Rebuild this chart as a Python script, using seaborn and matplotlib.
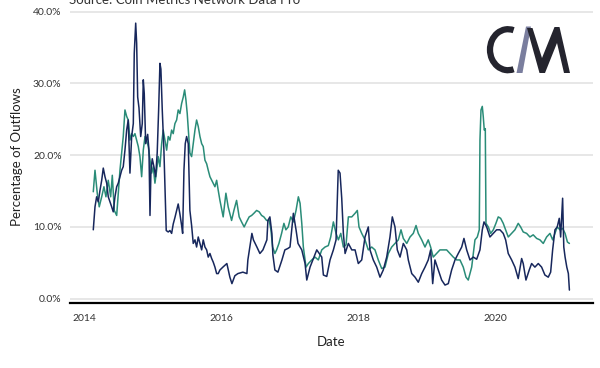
# Share of exchange outflows - recreated with seaborn
import pandas as pd
import matplotlib
matplotlib.use("Agg")
import matplotlib.pyplot as plt
import matplotlib.dates as mdates
from matplotlib.patches import Arc, Polygon
import seaborn as sns

# navy series (decimal year, percent)
navy_years = [
    2014.126, 2014.151, 2014.175, 2014.199, 2014.224, 2014.249, 2014.272, 2014.297, 2014.322, 2014.345,
    2014.370, 2014.395, 2014.418, 2014.443, 2014.468, 2014.491, 2014.516, 2014.541, 2014.564, 2014.589,
    2014.614, 2014.637, 2014.662, 2014.687, 2014.711, 2014.725, 2014.746, 2014.760, 2014.775, 2014.794,
    2014.819, 2014.842, 2014.857, 2014.871, 2014.892, 2014.921, 2014.940, 2014.955, 2014.969, 2014.988,
    2015.013, 2015.038, 2015.061, 2015.082, 2015.101, 2015.115, 2015.135, 2015.159, 2015.178, 2015.193,
    2015.222, 2015.247, 2015.272, 2015.295, 2015.320, 2015.345, 2015.368, 2015.393, 2015.418, 2015.433,
    2015.452, 2015.471, 2015.491, 2015.515, 2015.539, 2015.564, 2015.588, 2015.613, 2015.637, 2015.661,
    2015.686, 2015.711, 2015.734, 2015.759, 2015.784, 2015.807, 2015.832, 2015.857, 2015.880, 2015.905,
    2015.930, 2015.953, 2015.978, 2016.022, 2016.080, 2016.124, 2016.154, 2016.197, 2016.241, 2016.314,
    2016.373, 2016.387, 2016.446, 2016.468, 2016.519, 2016.563, 2016.607, 2016.665, 2016.680, 2016.709,
    2016.738, 2016.753, 2016.782, 2016.826, 2016.885, 2016.928, 2016.972, 2017.001, 2017.050, 2017.089,
    2017.118, 2017.173, 2017.221, 2017.246, 2017.294, 2017.392, 2017.465, 2017.489, 2017.538, 2017.586,
    2017.635, 2017.674, 2017.706, 2017.732, 2017.757, 2017.781, 2017.806, 2017.854, 2017.904, 2017.952,
    2018.000, 2018.050, 2018.098, 2018.146, 2018.171, 2018.219, 2018.269, 2018.317, 2018.365, 2018.415,
    2018.463, 2018.497, 2018.536, 2018.570, 2018.610, 2018.658, 2018.708, 2018.731, 2018.781, 2018.829,
    2018.877, 2018.927, 2018.975, 2019.023, 2019.058, 2019.088, 2019.121, 2019.170, 2019.219, 2019.268,
    2019.316, 2019.365, 2019.414, 2019.462, 2019.512, 2019.545, 2019.585, 2019.633, 2019.681, 2019.731,
    2019.779, 2019.813, 2019.838, 2019.877, 2019.925, 2019.974, 2020.023, 2020.072, 2020.120, 2020.155,
    2020.193, 2020.243, 2020.291, 2020.339, 2020.389, 2020.412, 2020.452, 2020.500, 2020.535, 2020.583,
    2020.632, 2020.681, 2020.729, 2020.778, 2020.813, 2020.842, 2020.876, 2020.909, 2020.939, 2020.959,
    2020.988, 2021.003, 2021.022, 2021.047, 2021.070, 2021.085,
]
navy_pct = [
    9.6, 12.8, 14.2, 13.5, 15.1, 16.5, 18.2, 17.0, 16.1, 14.2,
    13.5, 12.8, 12.1, 14.2, 15.6, 16.1, 17.0, 17.9, 18.4, 20.7,
    23.5, 24.9, 17.5, 22.6, 24.4, 34.2, 38.4, 35.6, 28.1, 26.6,
    22.6, 24.4, 30.5, 28.6, 21.6, 22.9, 20.7, 11.6, 17.9, 19.5,
    18.4, 17.0, 20.3, 26.3, 32.8, 32.0, 26.3, 20.7, 14.7, 9.5,
    9.3, 9.5, 9.1, 10.4, 11.3, 12.3, 13.2, 11.8, 10.2, 9.1,
    17.9, 21.6, 22.6, 21.6, 12.3, 10.2, 7.7, 8.2, 7.2, 8.6,
    7.7, 6.8, 8.2, 7.2, 6.8, 5.8, 6.3, 5.6, 5.1, 4.4,
    3.5, 3.5, 4.0, 4.4, 4.9, 3.0, 2.1, 3.2, 3.5, 3.7,
    3.5, 5.4, 9.1, 8.2, 7.2, 6.3, 6.8, 8.2, 10.9, 11.4,
    9.1, 6.1, 4.0, 3.7, 5.4, 6.8, 7.0, 7.2, 11.9, 9.6,
    7.7, 6.8, 4.9, 2.6, 4.4, 6.8, 5.8, 3.3, 3.1, 5.4,
    6.8, 8.2, 17.9, 17.5, 14.0, 9.1, 6.3, 7.7, 6.8, 6.8,
    4.9, 5.4, 8.6, 10.0, 6.8, 5.4, 4.4, 3.0, 4.0, 5.8,
    8.6, 11.4, 10.0, 6.8, 5.8, 7.7, 6.8, 5.4, 3.5, 3.0,
    2.3, 3.5, 4.4, 5.4, 6.8, 2.1, 5.4, 4.0, 2.6, 1.9,
    2.1, 4.0, 5.4, 6.3, 7.2, 8.4, 6.8, 5.4, 5.8, 5.5,
    6.8, 9.6, 10.7, 10.0, 8.6, 9.1, 9.6, 9.6, 9.1, 8.2,
    6.3, 5.4, 4.4, 2.8, 5.6, 4.9, 2.6, 4.0, 4.9, 4.4,
    4.9, 4.4, 3.3, 3.0, 3.7, 6.8, 9.6, 10.0, 11.2, 8.6,
    14.0, 7.2, 5.8, 4.4, 3.5, 1.2,
]

# teal series (decimal year, percent)
teal_years = [
    2014.126, 2014.151, 2014.184, 2014.213, 2014.249, 2014.282, 2014.311, 2014.345, 2014.380, 2014.404,
    2014.433, 2014.468, 2014.491, 2014.516, 2014.541, 2014.564, 2014.589, 2014.614, 2014.637, 2014.662,
    2014.687, 2014.711, 2014.735, 2014.760, 2014.784, 2014.808, 2014.833, 2014.857, 2014.882, 2014.906,
    2014.930, 2014.955, 2014.980, 2015.003, 2015.028, 2015.053, 2015.076, 2015.101, 2015.126, 2015.149,
    2015.174, 2015.199, 2015.222, 2015.247, 2015.272, 2015.295, 2015.320, 2015.345, 2015.368, 2015.393,
    2015.418, 2015.442, 2015.462, 2015.481, 2015.500, 2015.520, 2015.539, 2015.564, 2015.588, 2015.613,
    2015.637, 2015.661, 2015.686, 2015.711, 2015.734, 2015.759, 2015.784, 2015.807, 2015.832, 2015.880,
    2015.905, 2015.930, 2015.953, 2015.978, 2016.026, 2016.066, 2016.099, 2016.149, 2016.183, 2016.222,
    2016.260, 2016.295, 2016.333, 2016.368, 2016.406, 2016.442, 2016.475, 2016.515, 2016.553, 2016.588,
    2016.621, 2016.661, 2016.699, 2016.724, 2016.749, 2016.782, 2016.807, 2016.841, 2016.880, 2016.914,
    2016.943, 2016.977, 2017.012, 2017.050, 2017.089, 2017.123, 2017.148, 2017.173, 2017.196, 2017.235,
    2017.269, 2017.319, 2017.367, 2017.415, 2017.465, 2017.513, 2017.561, 2017.596, 2017.635, 2017.674,
    2017.708, 2017.743, 2017.781, 2017.820, 2017.854, 2017.904, 2017.952, 2017.985, 2018.010, 2018.050,
    2018.098, 2018.146, 2018.196, 2018.244, 2018.292, 2018.342, 2018.390, 2018.439, 2018.488, 2018.536,
    2018.585, 2018.624, 2018.658, 2018.708, 2018.756, 2018.804, 2018.844, 2018.877, 2018.927, 2018.975,
    2019.023, 2019.058, 2019.096, 2019.146, 2019.194, 2019.243, 2019.292, 2019.341, 2019.389, 2019.439,
    2019.487, 2019.535, 2019.575, 2019.608, 2019.658, 2019.706, 2019.740, 2019.769, 2019.779, 2019.794,
    2019.813, 2019.827, 2019.842, 2019.857, 2019.867, 2019.901, 2019.936, 2019.974, 2020.013, 2020.047,
    2020.082, 2020.120, 2020.155, 2020.193, 2020.243, 2020.291, 2020.339, 2020.374, 2020.412, 2020.462,
    2020.510, 2020.558, 2020.608, 2020.656, 2020.705, 2020.754, 2020.803, 2020.842, 2020.876, 2020.909,
    2020.949, 2020.988, 2021.022, 2021.056, 2021.085,
]
teal_pct = [
    14.9, 17.9, 14.7, 12.8, 14.2, 15.6, 14.2, 16.5, 14.2, 17.2,
    12.3, 11.6, 14.7, 17.9, 20.3, 22.6, 26.3, 25.4, 24.9, 22.1,
    23.0, 22.6, 23.0, 22.1, 21.2, 19.8, 17.0, 20.7, 22.6, 22.1,
    21.2, 19.3, 17.5, 18.4, 16.1, 17.9, 19.8, 18.4, 21.6, 23.5,
    22.1, 20.7, 22.6, 22.1, 23.5, 23.0, 24.4, 24.9, 26.3, 25.8,
    27.2, 28.1, 29.1, 27.7, 25.8, 23.0, 20.3, 19.8, 21.6, 23.5,
    24.9, 24.0, 22.6, 21.6, 21.2, 19.3, 18.8, 17.9, 17.0, 16.1,
    15.6, 16.5, 15.1, 13.7, 11.4, 14.7, 12.8, 10.9, 12.3, 13.7,
    11.4, 10.7, 10.0, 10.7, 11.4, 11.6, 11.9, 12.3, 12.1, 11.6,
    11.4, 10.9, 10.9, 9.6, 7.2, 6.3, 6.8, 7.7, 9.1, 10.5,
    9.6, 10.0, 11.4, 10.7, 12.3, 14.2, 13.3, 10.5, 7.2, 4.4,
    4.9, 5.4, 5.8, 5.4, 6.8, 7.2, 7.4, 8.6, 10.7, 9.1,
    8.2, 9.1, 7.2, 7.5, 11.4, 11.4, 11.9, 12.3, 10.0, 9.1,
    8.2, 6.8, 7.2, 6.8, 5.4, 4.2, 4.4, 6.3, 7.2, 7.7,
    8.2, 9.6, 8.4, 7.7, 8.6, 9.1, 10.2, 9.1, 8.2, 7.2,
    8.2, 7.2, 5.8, 6.3, 6.8, 6.8, 6.8, 6.3, 5.8, 5.4,
    5.4, 4.4, 3.0, 2.6, 4.4, 8.2, 8.6, 9.6, 22.1, 26.3,
    26.8, 25.4, 23.5, 23.7, 10.5, 10.0, 9.1, 9.6, 10.5, 11.4,
    11.2, 10.5, 9.6, 8.6, 9.1, 9.6, 10.5, 10.0, 9.3, 9.1,
    8.6, 8.9, 8.4, 8.2, 7.7, 8.6, 9.1, 8.2, 9.1, 10.0,
    9.6, 9.8, 9.1, 7.9, 7.7,
]

y_ticks = [0, 10, 20, 30, 40]
x_tick_years = [2014, 2016, 2018, 2020]

NAVY = "#17275c"
TEAL = "#2a8c78"
INK = "#24242e"


def to_date(years):
    # decimal year -> timestamp
    out = []
    for y in years:
        start = pd.Timestamp(year=int(y), month=1, day=1)
        out.append(start + pd.Timedelta(days=(y - int(y)) * 365.25))
    return out


navy_df = pd.DataFrame({"Date": to_date(navy_years), "pct": navy_pct})
teal_df = pd.DataFrame({"Date": to_date(teal_years), "pct": teal_pct})

sns.set_theme(style="white")
plt.rcParams["font.family"] = ["Lato", "DejaVu Sans"]

W, H = 600, 368
fig = plt.figure(figsize=(W / 100, H / 100), dpi=100)
ax = fig.add_axes([70 / W, 65 / H, 523 / W, 293.5 / H])

sns.lineplot(data=teal_df, x="Date", y="pct", color=TEAL, linewidth=1.1, ax=ax)
sns.lineplot(data=navy_df, x="Date", y="pct", color=NAVY, linewidth=1.1, ax=ax)

ax.set_ylim(-0.6, 40.3)
ax.set_xlim(to_date([2013.785])[0], to_date([2021.43])[0])
ax.set_yticks(y_ticks)
ax.set_yticklabels([f"{v:.1f}%" for v in y_ticks])
ax.set_xticks(to_date(x_tick_years))
ax.xaxis.set_major_formatter(mdates.DateFormatter("%Y"))

ax.grid(axis="y", color="#e3e3e3", linewidth=1.2)
ax.grid(axis="x", visible=False)
ax.set_axisbelow(True)
for side in ["top", "right", "left"]:
    ax.spines[side].set_visible(False)
ax.spines["bottom"].set_color("black")
ax.spines["bottom"].set_linewidth(1.6)

ax.tick_params(axis="both", length=0, labelsize=7.5, colors="#333333")
ax.tick_params(axis="x", pad=8)
ax.tick_params(axis="y", pad=6)
ax.set_xlabel("Date", fontsize=9.5, color="#222222", labelpad=9)
ax.set_ylabel("Percentage of Outflows", fontsize=9.5, color="#222222", labelpad=7)

fig.text(69 / W, 1 - 4 / H, "Source: Coin Metrics Network Data Pro",
         ha="left", va="baseline", fontsize=9.5, color="#333333")


# logo, drawn in figure pixels
def px(x, y):
    return (x / W, 1 - y / H)


fig.add_artist(Arc(px(508, 49.7), 36 / W, 41 / H, theta1=80, theta2=280,
                   transform=fig.transFigure, color=INK, linewidth=4.5))
slash = [px(516.5, 73), px(522.5, 73), px(531, 26.5), px(526, 26.5)]
fig.add_artist(Polygon(slash, closed=True, transform=fig.transFigure,
                       facecolor="#7a7e9e", edgecolor="none"))
m_shape = [px(527, 28), px(532.5, 28), px(542, 58), px(554.5, 27), px(559.5, 27),
           px(570, 73), px(564, 73), px(557, 43), px(545, 73), px(539.5, 73)]
fig.add_artist(Polygon(m_shape, closed=True, transform=fig.transFigure,
                       facecolor=INK, edgecolor="none"))

fig.savefig("out.png", dpi=100)
